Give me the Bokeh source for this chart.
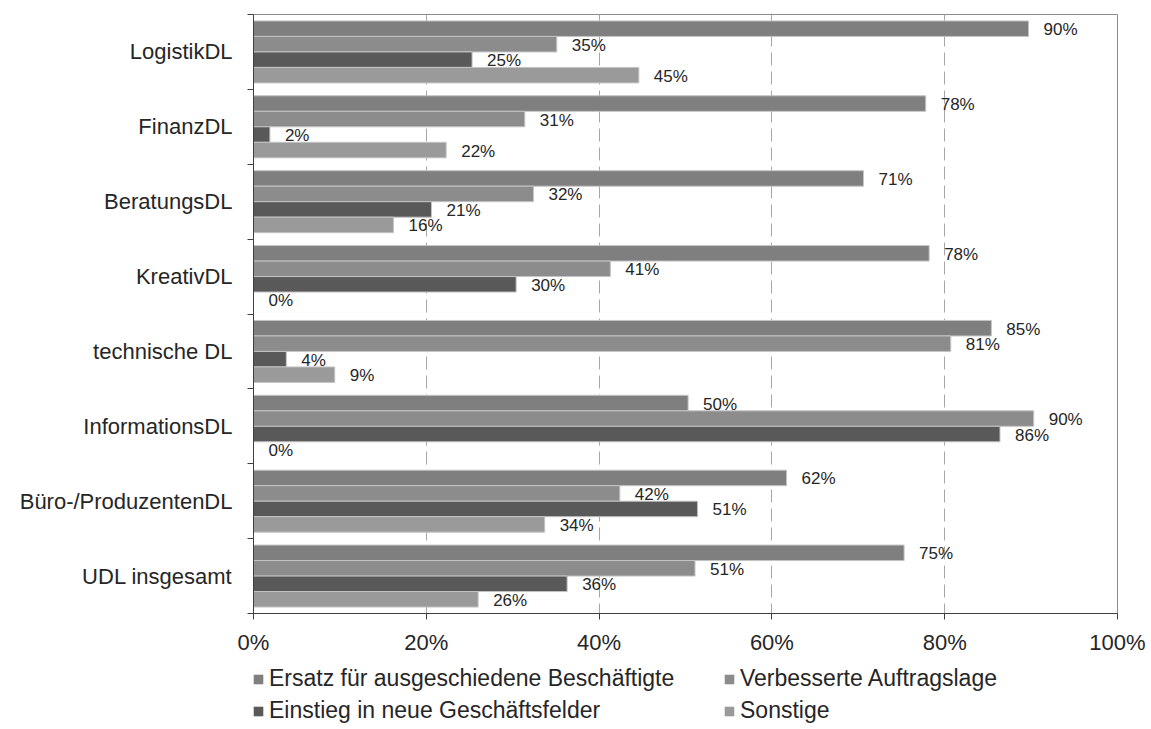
from bokeh.plotting import figure
from bokeh.layouts import column
from bokeh.models import (ColumnDataSource, Range1d, FixedTicker, PrintfTickFormatter,
                          Legend, LegendItem)
from bokeh.embed import file_html
from bokeh.resources import INLINE
from bokeh.core.properties import value

# ---------------- data ----------------
categories = ["LogistikDL", "FinanzDL", "BeratungsDL", "KreativDL", "technische DL",
              "InformationsDL", "Büro-/ProduzentenDL", "UDL insgesamt"]
series_names = ["Ersatz für ausgeschiedene Beschäftigte", "Verbesserte Auftragslage",
                "Einstieg in neue Geschäftsfelder", "Sonstige"]
ersatz = [89.7, 77.8, 70.6, 78.2, 85.4, 50.3, 61.7, 75.3]
auftragslage = [35.1, 31.4, 32.4, 41.3, 80.7, 90.3, 42.4, 51.1]
einstieg = [25.3, 1.9, 20.6, 30.4, 3.8, 86.4, 51.4, 36.3]
sonstige = [44.6, 22.3, 16.2, 0.0, 9.4, 0.0, 33.7, 26.0]
x_ticks = [0, 20, 40, 60, 80, 100]

# ---------------- style ----------------
series_values = [ersatz, auftragslage, einstieg, sonstige]
colors = ["#7f7f7f", "#8c8c8c", "#595959", "#9a9a9a"]
FONT = "Liberation Sans"
TXT = "#262626"
AX = "#404040"
BAR_LINE = "#c4c4c4"
bar_h = 0.207

W = 1148
H_MAIN, H_LEG = 660, 69
FRAME_W = 864
LEFT, TOP, FRAME_BOTTOM = 253, 14, 613
p = figure(width=W, height=H_MAIN, output_backend="svg", toolbar_location=None,
           x_range=Range1d(0, 100), y_range=Range1d(len(categories), 0),
           min_border_left=LEFT, min_border_right=W - LEFT - FRAME_W,
           min_border_top=TOP, min_border_bottom=H_MAIN - FRAME_BOTTOM)
p.background_fill_color = "white"
p.border_fill_color = "white"
p.outline_line_color = "#8c8c8c"
p.outline_line_width = 1

for k, (vals, col) in enumerate(zip(series_values, colors)):
    ys = [i + 0.5 + (k - 1.5) * bar_h for i in range(len(categories))]
    src = ColumnDataSource(dict(y=ys, right=vals,
                                t=[f"{round(v)}%" for v in vals]))
    p.hbar(y="y", left=0, right="right", height=bar_h, source=src,
           fill_color=col, line_color=BAR_LINE, line_width=1)
    p.text(x="right", y="y", text="t", source=src, x_offset=15, y_offset=1,
           text_align="left", text_baseline="middle",
           text_font=value(FONT), text_font_size="17px", text_color=TXT)

# x axis
p.xaxis.ticker = FixedTicker(ticks=x_ticks)
p.xaxis.formatter = PrintfTickFormatter(format="%d%%")
p.xaxis.major_tick_out = 6
p.xaxis.major_tick_in = 0
p.xaxis.minor_tick_line_color = None
p.xaxis.axis_line_color = AX
p.xaxis.major_tick_line_color = AX
p.xaxis.major_label_text_font = FONT
p.xaxis.major_label_text_font_size = "22px"
p.xaxis.major_label_text_color = TXT
p.xaxis.major_label_standoff = 10

# y axis: labels centred in each band, ticks at band boundaries
p.yaxis.ticker = FixedTicker(ticks=[i + 0.5 for i in range(len(categories))],
                             minor_ticks=list(range(len(categories) + 1)))
p.yaxis.major_label_overrides = {i + 0.5: c for i, c in enumerate(categories)}
p.yaxis.major_tick_line_color = None
p.yaxis.major_tick_out = 0
p.yaxis.major_tick_in = 0
p.yaxis.minor_tick_out = 6
p.yaxis.minor_tick_in = 0
p.yaxis.minor_tick_line_color = AX
p.yaxis.axis_line_color = AX
p.yaxis.major_label_text_font = FONT
p.yaxis.major_label_text_font_size = "22px"
p.yaxis.major_label_text_color = TXT
p.yaxis.major_label_standoff = 15

# grid
p.xgrid.ticker = FixedTicker(ticks=[20, 40, 60, 80])
p.xgrid.grid_line_color = "#a6a6a6"
p.xgrid.grid_line_dash = "13 6"
p.xgrid.grid_line_width = 1
p.ygrid.grid_line_color = None

# ---------------- legend (own strip below the chart) ----------------
lg = figure(width=W, height=H_LEG, output_backend="svg", toolbar_location=None,
            x_range=Range1d(0, 1), y_range=Range1d(0, 1),
            x_axis_type=None, y_axis_type=None,
            min_border_left=0, min_border_right=0, min_border_top=0, min_border_bottom=0)
lg.outline_line_color = None
lg.background_fill_color = "white"
lg.border_fill_color = "white"
lg.xgrid.visible = False
lg.ygrid.visible = False

items = []
for name, col in zip(series_names, colors):
    # swatch renderer lies outside the strip's visible ranges; only its legend glyph shows
    r = lg.hbar(y=[-5], left=[5], right=[5], height=0.01, fill_color=col,
                line_color=None)
    items.append(LegendItem(label=name, renderers=[r]))

legend = Legend(items=items, location=(-1, 5), orientation="horizontal", ncols=2,
                glyph_width=12, glyph_height=12, label_standoff=5, label_width=449,
                label_height=24, spacing=5, padding=0, margin=0,
                border_line_color=None, background_fill_alpha=0,
                label_text_font=FONT, label_text_font_size="23px",
                label_text_color=TXT, label_text_baseline="middle")
lg.add_layout(legend)

layout = column(p, lg, spacing=0)
open("out.html", "w").write(file_html(layout, INLINE))
